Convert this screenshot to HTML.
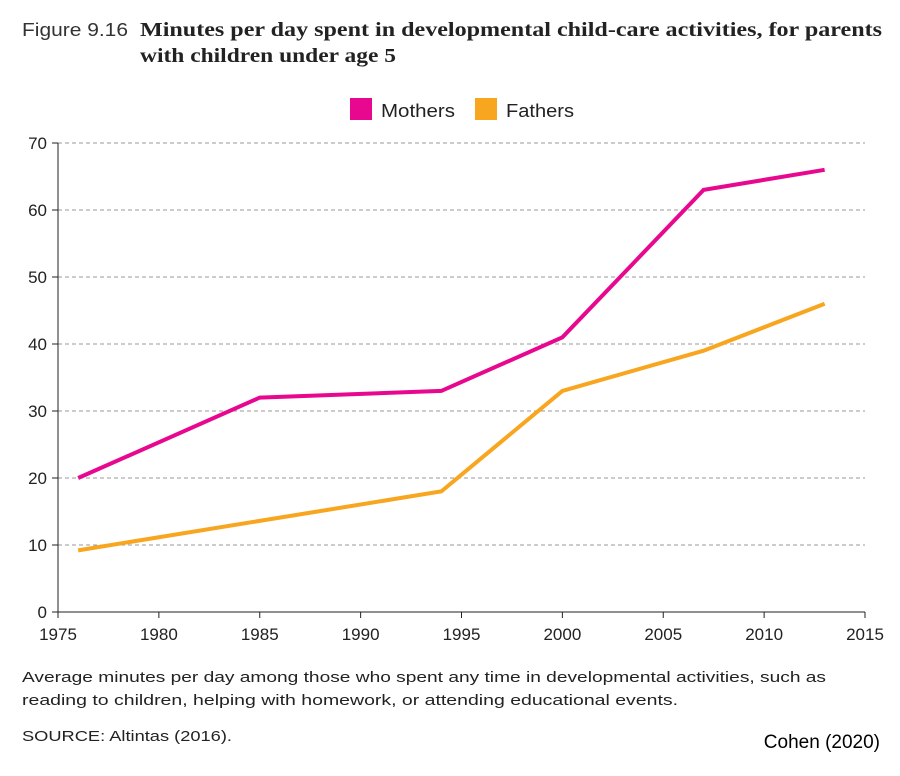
<!DOCTYPE html>
<html><head><meta charset="utf-8"><style>
body{margin:0;background:#fff;width:900px;height:776px;overflow:hidden;font-family:"Liberation Sans",sans-serif}
svg{position:absolute;left:0;top:0}
</style></head><body>
<svg width="900" height="776" id="chart">
<text x="22" y="36" font-size="18" fill="#333" textLength="106" lengthAdjust="spacingAndGlyphs">Figure 9.16</text>
<text x="140" y="36" font-size="20" font-weight="bold" font-family="Liberation Serif,serif" fill="#222" textLength="742" lengthAdjust="spacingAndGlyphs">Minutes per day spent in developmental child-care activities, for parents</text>
<text x="140" y="62" font-size="20" font-weight="bold" font-family="Liberation Serif,serif" fill="#222" textLength="256" lengthAdjust="spacingAndGlyphs">with children under age 5</text>
<g>
<rect x="350" y="98" width="22" height="22" fill="#e8088f"/>
<text x="381" y="117" font-size="18" fill="#222" textLength="74" lengthAdjust="spacingAndGlyphs">Mothers</text>
<rect x="475" y="98" width="22" height="22" fill="#f8a51f"/>
<text x="506" y="117" font-size="18" fill="#222" textLength="68" lengthAdjust="spacingAndGlyphs">Fathers</text>
</g>
<g id="plot"></g>
<text x="22" y="682" font-size="15" fill="#222" textLength="804" lengthAdjust="spacingAndGlyphs">Average minutes per day among those who spent any time in developmental activities, such as</text>
<text x="22" y="705" font-size="15" fill="#222" textLength="656" lengthAdjust="spacingAndGlyphs">reading to children, helping with homework, or attending educational events.</text>
<text x="22" y="741" font-size="15" fill="#222" textLength="210" lengthAdjust="spacingAndGlyphs">SOURCE: Altintas (2016).</text>
<text x="880" y="748" font-size="19" fill="#000" text-anchor="end">Cohen (2020)</text>
</svg>
<script>
const years=[1976,1985,1994,2000,2007,2013];
const mothers=[20,32,33,41,63,66];
const fathers=[9.2,13.6,18,33,39,46];
const yTicks=[0,10,20,30,40,50,60,70];
const xTicks=[1975,1980,1985,1990,1995,2000,2005,2010,2015];
const NS="http://www.w3.org/2000/svg";
const g=document.getElementById('plot');
const X0=58,X1=865,Y0=612,Y1=143;
const xs=v=>X0+(v-1975)/(2015-1975)*(X1-X0);
const ys=v=>Y0-v/70*(Y0-Y1);
function mk(t,a){const e=document.createElementNS(NS,t);for(const k in a)e.setAttribute(k,a[k]);g.appendChild(e);return e;}
yTicks.forEach(v=>{
 if(v>0){const l=mk('line',{x1:X0,x2:X1,y1:ys(v),y2:ys(v),stroke:'#999','stroke-dasharray':'4,3','stroke-width':1});
 
 }
 const t=mk('line',{x1:X0-6,x2:X0,y1:ys(v),y2:ys(v),stroke:'#222'});
 
 
 const tx=mk('text',{x:X0-11,y:ys(v)+6,'font-size':17,'text-anchor':'end',fill:'#222'});tx.textContent=v;
 
 
});
xTicks.forEach(v=>{
 const t=mk('line',{x1:xs(v),x2:xs(v),y1:Y0,y2:Y0+6,stroke:'#222'});
 
 
 const tx=mk('text',{x:xs(v),y:Y0+28,'font-size':17,'text-anchor':'middle',fill:'#222'});tx.textContent=v;
 
 
});
const ya=mk('line',{x1:X0,x2:X0,y1:Y1,y2:Y0,stroke:'#222'});


const xa=mk('line',{x1:X0,x2:X1,y1:Y0,y2:Y0,stroke:'#222'});


function line(d,c,n){const p=mk('polyline',{points:years.map((y,i)=>xs(y)+','+ys(d[i])).join(' '),fill:'none',stroke:c,'stroke-width':4,'stroke-linejoin':'miter'});
 
 }
line(fathers,'#f8a51f','fathers-line');
line(mothers,'#e8088f','mothers-line');
</script>
</body></html>
